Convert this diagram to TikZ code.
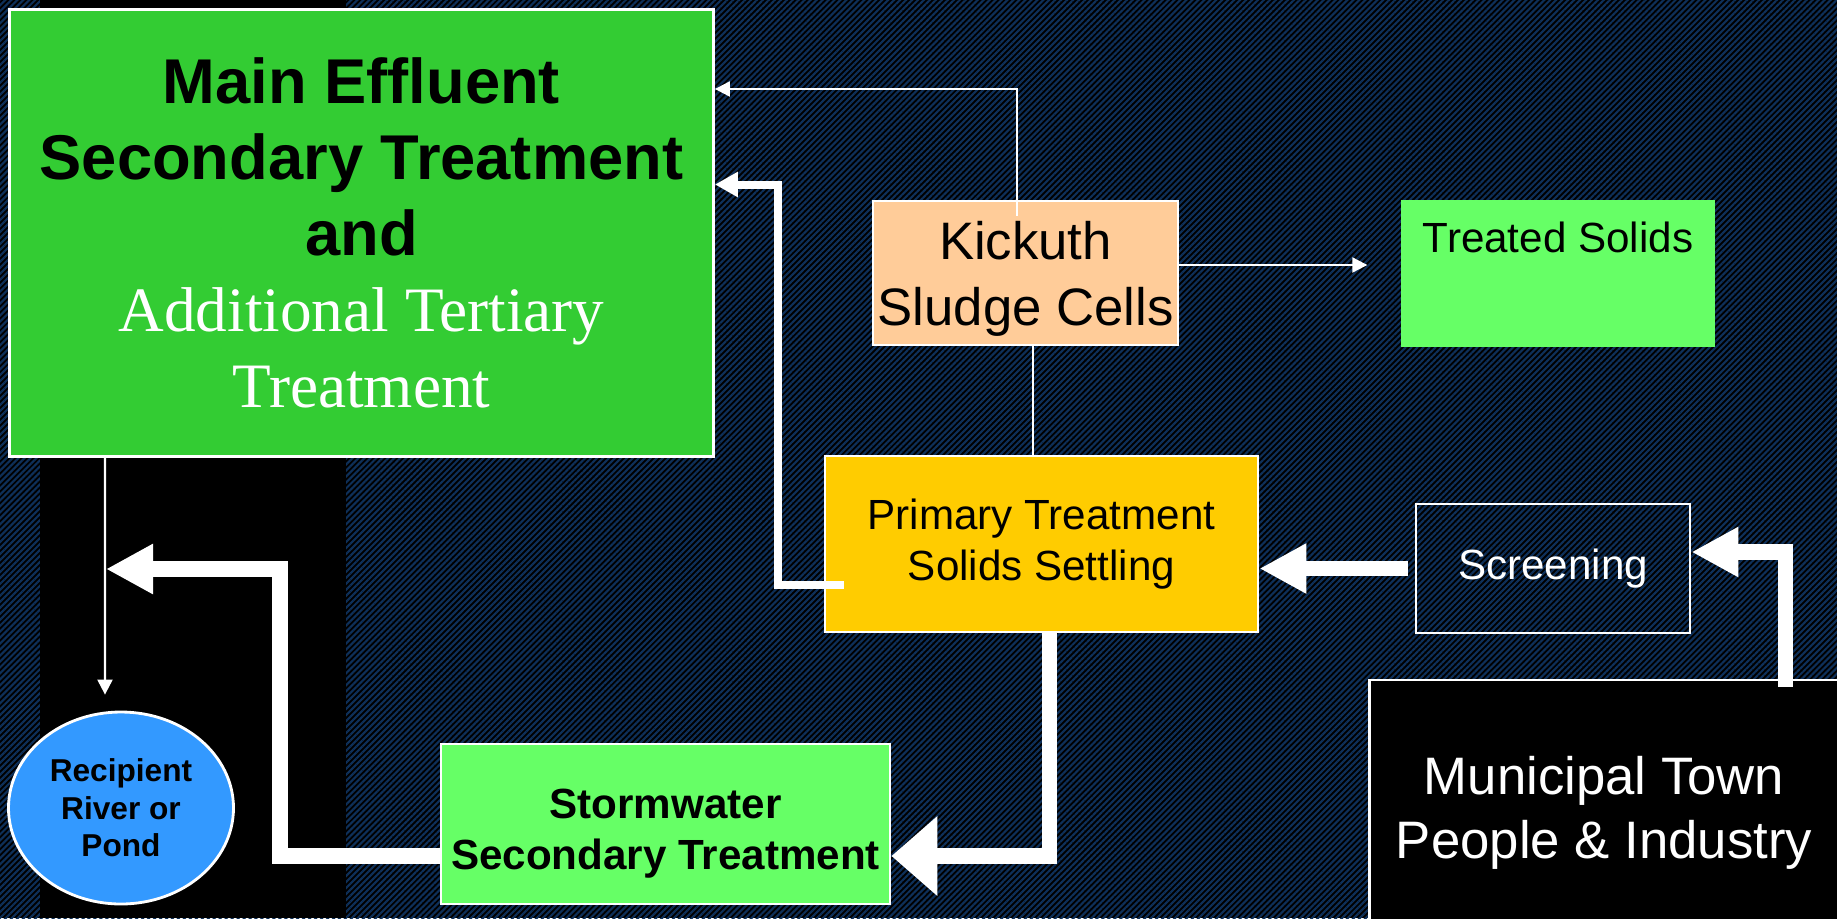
\documentclass[tikz,border=0pt]{standalone}
\usepackage{fontspec}
\setmainfont{Liberation Serif}
\setsansfont{Liberation Sans}
\usetikzlibrary{arrows.meta,patterns.meta,shapes.geometric}

\definecolor{boxgreen}{HTML}{33CC33}
\definecolor{lightgreen}{HTML}{66FF66}
\definecolor{peach}{HTML}{FFCC99}
\definecolor{amber}{HTML}{FFCC00}
\definecolor{pondblue}{HTML}{3399FF}
\definecolor{stripe}{RGB}{14,48,90}

\tikzset{
  stage/.style={draw=white,line width=0.8pt,inner sep=0pt,align=center},
  wire/.style={draw=white,line width=0.6pt,-{Triangle[length=0.15cm,width=0.15cm]}},
  backflow/.style={draw=white,line width=0.08cm,-{Triangle[length=0.23cm,width=0.24cm]}},
  pipe/.style={draw=white,line width=0.155cm,-{Triangle[length=0.47cm,width=0.47cm]}}
}

\begin{document}
\begin{tikzpicture}
\useasboundingbox (0,0) rectangle (18.37,-9.18);
\clip (0,0) rectangle (18.37,-9.18);
\fill[black] (0,0) rectangle (18.37,-9.18);
\fill[pattern={Lines[angle=45,distance=1.2pt,line width=0.6pt]},pattern color=stripe] (0,0) rectangle (18.37,-9.18);
\fill[black] (0.40,0) rectangle (3.46,-9.18);

\node[stage,fill=boxgreen,minimum width=7.04cm,minimum height=4.47cm,font=\sffamily\bfseries\fontsize{18}{21.6}\selectfont] (main) at (3.615,-2.326)
  {Main Effluent\\ Secondary Treatment\\ and\\
   \rmfamily\mdseries\color{white}Additional Tertiary\\ \rmfamily\mdseries\color{white}Treatment};
\node[stage,fill=peach,minimum width=3.05cm,minimum height=1.44cm,font=\sffamily\fontsize{15}{18.7}\selectfont] (kick) at (10.255,-2.73) {\rule{0pt}{0.5cm}Kickuth\\ Sludge Cells};
\node[fill=lightgreen,inner sep=0pt,minimum width=3.14cm,text height=0.52cm,text depth=0.95cm,font=\sffamily\fontsize{12}{14.4}\selectfont] (solids) at (15.58,-2.735) {Treated Solids};
\node[stage,fill=amber,minimum width=4.33cm,minimum height=1.76cm,font=\sffamily\fontsize{12}{14.5}\selectfont] (prim) at (10.415,-5.44) {Primary Treatment\\ Solids Settling};
\node[stage,text=white,minimum width=2.74cm,minimum height=1.29cm,font=\sffamily\fontsize{12}{14.4}\selectfont] (screen) at (15.53,-5.685) {Screening};
\node[stage,fill=black,text=white,minimum width=4.69cm,minimum height=2.54cm,font=\sffamily\fontsize{15}{18.2}\selectfont] (town) at (16.04,-8.07) {\rule{0pt}{0.5cm}Municipal Town\\ People \& Industry};
\node[stage,fill=lightgreen,minimum width=4.49cm,minimum height=1.60cm,font=\sffamily\bfseries\fontsize{12}{14.5}\selectfont] (storm) at (6.655,-8.24) {\rule{0pt}{0.48cm}Stormwater\\ Secondary Treatment};
\node[stage,ellipse,fill=pondblue,minimum width=2.25cm,minimum height=1.92cm,font=\sffamily\bfseries\fontsize{9}{10.7}\selectfont] (recip) at (1.21,-8.08) {Recipient\\ River or\\ Pond};

\draw[wire] ([shift={(-0.085,-0.16)}]kick.north) |- ([yshift=1.436cm]main.east);
\draw[wire,-] ([xshift=0.075cm]kick.south) -- ([xshift=0.075cm]kick.south |- prim.north);
\draw[wire] ([yshift=0.08cm]kick.east) -- ([shift={(-0.33,0.085)}]solids.west);
\draw[wire] ([xshift=-2.565cm]main.south) -- ([shift={(-0.16,0.16)}]recip.north);
\draw[backflow] ([shift={(0.2,-0.405)}]prim.west) -- ++(-0.655,0) |- ([yshift=0.481cm]main.east);
\draw[pipe] ([xshift=-0.07cm]screen.west) -- (screen.west -| prim.east);
\draw[pipe] ([shift={(1.815,-0.08)}]town.north) |- ([yshift=0.165cm]screen.east);
\draw[pipe,-{Triangle[length=0.46cm,width=0.77cm]}] ([xshift=0.08cm]prim.south) |- ([yshift=-0.32cm]storm.east);
\coordinate (outfall) at (1.06,-5.69);
\draw[pipe] ([yshift=-0.32cm]storm.west) -- ++(-1.595,0) |- (outfall);
\end{tikzpicture}
\end{document}
